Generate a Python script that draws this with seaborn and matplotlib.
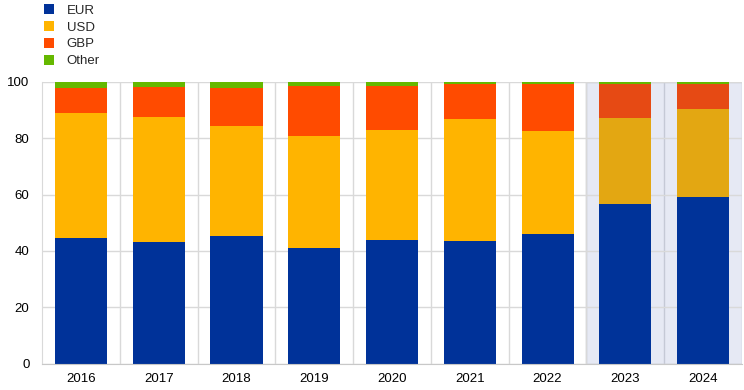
import numpy as np
import pandas as pd
import matplotlib
matplotlib.use("Agg")
import matplotlib.pyplot as plt
from matplotlib.patches import Patch
import seaborn as sns

# data (shares, %)
years = ["2016", "2017", "2018", "2019", "2020", "2021", "2022", "2023", "2024"]
eur = [44.6, 43.2, 45.3, 41.0, 43.9, 43.5, 46.0, 56.7, 59.2]
usd = [44.4, 44.4, 39.1, 39.8, 39.0, 43.4, 36.6, 30.5, 31.2]
gbp = [9.0, 10.6, 13.5, 17.8, 15.7, 12.4, 16.7, 12.2, 9.0]
other = [2.0, 1.8, 2.1, 1.4, 1.4, 0.7, 0.7, 0.6, 0.6]
labels = ["EUR", "USD", "GBP", "Other"]

colors = ["#003299", "#FFB400", "#FF4B00", "#65B800"]
# bars in the shaded (2023-2024) area look slightly muted
shaded_colors = ["#003399", "#E3A712", "#E64A14", "#65B800"]
n_shaded = 2

df = pd.DataFrame({"year": years, "EUR": eur, "USD": usd, "GBP": gbp, "Other": other})
cum = df[labels].cumsum(axis=1)

sns.set_style("white")
plt.rcParams['font.family'] = ['Liberation Sans', 'DejaVu Sans']

fig = plt.figure(figsize=(7.44, 3.9), dpi=100)
ax = fig.add_axes([42 / 744, 1 - 363.5 / 390, 700 / 744, (363.5 - 82) / 390])

# shaded projection area
ax.axvspan(len(years) - n_shaded - 0.5, len(years) - 0.5, facecolor="#E6E9F4",
           edgecolor="#C5C9D6", linewidth=1, zorder=0.3)

# draw cumulative layers from top to bottom so each covers the one beneath
for i in range(len(labels) - 1, -1, -1):
    pal = [colors[i]] * (len(years) - n_shaded) + [shaded_colors[i]] * n_shaded
    sns.barplot(data=cum.assign(year=years), x="year", y=labels[i], hue="year",
                palette=pal, legend=False, width=0.67, saturation=1, ax=ax,
                linewidth=0, zorder=2)

ax.set_xlim(-0.5, len(years) - 0.5)
ax.set_ylim(0, 100)
ax.set_yticks(np.arange(0, 101, 20))
ax.set_xlabel("")
ax.set_ylabel("")

# grid: horizontal at ticks, vertical between categories
ax.set_axisbelow(True)
ax.yaxis.grid(True, color="#D9D9D9", linewidth=1)
for b in np.arange(0.5, len(years) - 0.5, 1):
    c = "#C5C9D6" if b > len(years) - n_shaded - 0.5 else "#D9D9D9"
    ax.axvline(b, color=c, linewidth=1, zorder=0.5)
for s in ["top", "right"]:
    ax.spines[s].set_visible(False)
ax.spines["left"].set_color("#D9D9D9")
ax.spines["bottom"].set_color("#C8C8C8")
ax.tick_params(axis="both", length=0, labelsize=9.5, colors="#000000")
ax.tick_params(axis="y", pad=9)
ax.tick_params(axis="x", pad=7)

handles = [Patch(facecolor=c, edgecolor="none") for c in colors]
fig.legend(handles, labels, loc="upper left", bbox_to_anchor=(0.048, 1.01),
           frameon=False, fontsize=9.5, handlelength=0.8, handleheight=0.8,
           handletextpad=0.95, labelspacing=0.32, borderaxespad=0.2)

fig.savefig("out.png", dpi=100)
